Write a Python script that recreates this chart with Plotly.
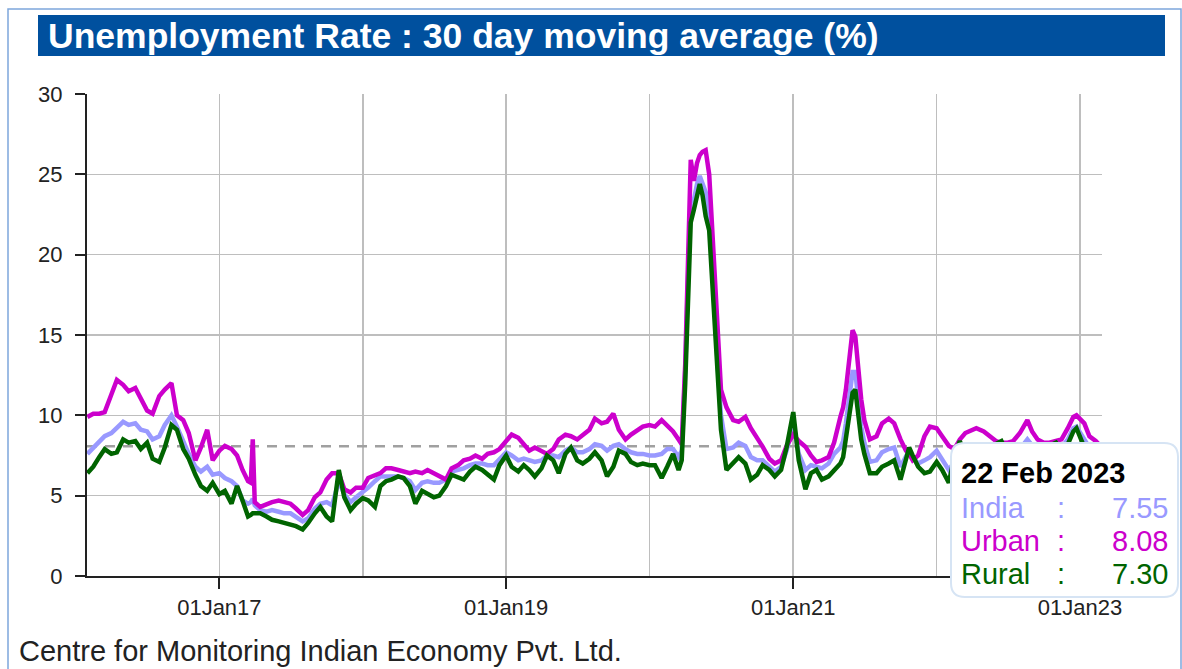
import plotly.graph_objects as go

# ---------------- data ----------------
dates = [
    # 2016
    "2016-01-31", "2016-02-15", "2016-03-01", "2016-03-15", "2016-04-01", "2016-04-15",
    "2016-05-01", "2016-05-15", "2016-06-01", "2016-06-15", "2016-07-01", "2016-07-15",
    "2016-08-01", "2016-08-15", "2016-09-01", "2016-09-15", "2016-10-01", "2016-10-15",
    "2016-11-01", "2016-11-15", "2016-12-01", "2016-12-15",
    # 2017
    "2017-01-01", "2017-01-15", "2017-02-01", "2017-02-15", "2017-03-01", "2017-03-15",
    "2017-03-22", "2017-03-27", "2017-04-01", "2017-04-15", "2017-05-01", "2017-05-15",
    "2017-06-01", "2017-06-15", "2017-07-01", "2017-07-15", "2017-08-01", "2017-08-15",
    "2017-09-01", "2017-09-15", "2017-10-01", "2017-10-15", "2017-11-01", "2017-11-15",
    "2017-12-01", "2017-12-15",
    # 2018
    "2018-01-01", "2018-01-15", "2018-02-01", "2018-02-15", "2018-03-01", "2018-03-15",
    "2018-04-01", "2018-04-15", "2018-05-01", "2018-05-15", "2018-06-01", "2018-06-15",
    "2018-07-01", "2018-07-15", "2018-08-01", "2018-08-15", "2018-09-01", "2018-09-15",
    "2018-10-01", "2018-10-15", "2018-11-01", "2018-11-15", "2018-12-01", "2018-12-15",
    # 2019
    "2019-01-01", "2019-01-15", "2019-02-01", "2019-02-15", "2019-03-01", "2019-03-15",
    "2019-04-01", "2019-04-15", "2019-05-01", "2019-05-15", "2019-06-01", "2019-06-15",
    "2019-07-01", "2019-07-15", "2019-08-01", "2019-08-15", "2019-09-01", "2019-09-15",
    "2019-10-01", "2019-10-15", "2019-11-01", "2019-11-15", "2019-12-01", "2019-12-15",
    # 2020
    "2020-01-01", "2020-01-15", "2020-02-01", "2020-02-15", "2020-03-01", "2020-03-15",
    "2020-03-23", "2020-04-01", "2020-04-08", "2020-04-15", "2020-04-23", "2020-05-01",
    "2020-05-08", "2020-05-15", "2020-05-23", "2020-06-01", "2020-06-08", "2020-06-15",
    "2020-06-23", "2020-07-01", "2020-07-15", "2020-08-01", "2020-08-15", "2020-09-01",
    "2020-09-15", "2020-10-01", "2020-10-15", "2020-11-01", "2020-11-15", "2020-12-01",
    "2020-12-15",
    # 2021
    "2021-01-01", "2021-01-15", "2021-02-01", "2021-02-15", "2021-03-01", "2021-03-15",
    "2021-04-01", "2021-04-15", "2021-05-01", "2021-05-08", "2021-05-15", "2021-05-23",
    "2021-06-01", "2021-06-08", "2021-06-15", "2021-06-23", "2021-07-01", "2021-07-15",
    "2021-08-01", "2021-08-15", "2021-09-01", "2021-09-15", "2021-10-01", "2021-10-15",
    "2021-10-23", "2021-11-01", "2021-11-15", "2021-12-01", "2021-12-15",
    # 2022
    "2022-01-01", "2022-01-15", "2022-02-01", "2022-02-15", "2022-03-01", "2022-03-15",
    "2022-04-01", "2022-04-12", "2022-05-01", "2022-05-15", "2022-06-01", "2022-06-15",
    "2022-07-01", "2022-07-15", "2022-08-01", "2022-08-20", "2022-09-01", "2022-09-15",
    "2022-10-01", "2022-10-15", "2022-11-01", "2022-11-15", "2022-12-01", "2022-12-15",
    "2022-12-23",
    # 2023
    "2023-01-01", "2023-01-12", "2023-01-25", "2023-02-10", "2023-02-22",
]

india = [
    7.6, 8.0, 8.4, 8.7, 8.9, 9.2, 9.6, 9.4, 9.5, 9.1, 9.0, 8.5,
    8.7, 9.4, 10.0, 9.3, 8.3, 7.6, 6.8, 6.5, 6.8, 6.3,
    6.4, 6.1, 5.9, 5.6, 4.7, 4.5, 4.6, 4.8, 4.4, 4.1, 4.0, 4.1,
    4.0, 3.9, 3.9, 3.7, 3.4, 3.6, 4.2, 4.5, 4.6, 4.4, 5.9, 5.1, 4.6, 4.9,
    5.2, 5.5, 5.9, 6.2, 6.2, 6.2, 6.2, 6.1, 5.9, 5.35, 5.8, 5.9,
    5.8, 5.8, 6.0, 6.5, 6.6, 6.7, 6.9, 7.0, 7.0, 6.9, 6.9, 7.3,
    7.7, 7.5, 7.2, 7.3, 7.2, 7.1, 7.2, 7.5, 7.5, 7.4, 7.8, 8.0,
    7.7, 7.7, 7.9, 8.2, 8.1, 7.8, 8.1, 8.2, 7.9, 7.7, 7.6, 7.6,
    7.5, 7.5, 7.6, 7.9, 7.9, 7.4, 7.8, 12.8, 18.5, 23.3, 23.4, 24.4,
    24.9, 24.5, 23.9, 22.6, 20.0, 16.5, 13.0, 10.0, 7.9, 8.0, 8.3, 8.1,
    7.4, 7.2, 7.2, 6.8, 6.5, 6.8, 7.8,
    9.5, 7.6, 6.6, 6.9, 6.8, 6.7, 7.0, 7.6, 8.0, 8.4, 9.5, 11.0,
    12.7, 12.7, 11.1, 9.3, 8.3, 7.1, 7.2, 7.7, 7.9, 8.0, 6.8, 7.5,
    7.8, 7.4, 7.0, 7.2, 7.4,
    7.8, 7.2, 6.6, 7.1, 8.1, 7.8, 7.7, 7.9, 8.0, 8.2, 8.2, 8.3,
    7.8, 7.6, 7.9, 8.5, 8.1, 7.7, 7.8, 8.2, 8.3, 8.0, 8.5, 9.2, 9.3,
    8.9, 8.5, 8.0, 7.7, 7.55,
]

urban = [
    9.9, 10.1, 10.1, 10.2, 11.3, 12.2, 11.9, 11.5, 11.7, 11.1, 10.3, 10.1,
    11.2, 11.6, 12.0, 10.0, 9.7, 8.9, 7.2, 8.0, 9.1, 7.2,
    7.8, 8.1, 7.9, 7.5, 6.6, 5.9, 5.8, 8.5, 4.6, 4.3, 4.5, 4.6,
    4.7, 4.6, 4.5, 4.2, 3.8, 4.1, 4.9, 5.2, 6.0, 6.4, 6.4, 5.4, 5.2, 5.5,
    5.5, 6.1, 6.3, 6.4, 6.7, 6.7, 6.6, 6.5, 6.4, 6.5, 6.4, 6.6,
    6.4, 6.2, 6.0, 6.7, 6.9, 7.2, 7.3, 7.5, 7.3, 7.6, 7.7, 7.9,
    8.4, 8.8, 8.6, 8.2, 7.8, 8.0, 7.8, 7.6, 7.9, 8.5, 8.8, 8.7,
    8.5, 8.8, 9.1, 9.8, 9.5, 9.6, 10.1, 9.1, 8.5, 8.8, 9.1, 9.3,
    9.4, 9.3, 9.7, 9.4, 9.0, 8.5, 8.2, 13.2, 19.5, 25.9, 24.6, 25.7,
    26.2, 26.4, 26.5, 25.0, 21.9, 18.4, 14.7, 11.6, 10.5, 9.7, 9.6, 9.9,
    9.2, 8.6, 8.05, 7.3, 7.0, 7.2, 8.1,
    8.8, 8.4, 8.05, 7.5, 7.1, 7.2, 7.4, 8.3, 9.9, 10.5, 11.6, 13.7,
    15.3, 14.9, 12.8, 11.0, 9.7, 8.5, 8.7, 9.5, 9.8, 9.5, 8.5, 7.8,
    7.6, 7.2, 7.5, 8.7, 9.3,
    9.2, 8.7, 8.1, 7.9, 8.5, 8.9, 9.1, 9.2, 9.0, 8.7, 8.4, 8.3,
    8.3, 8.4, 8.9, 9.7, 9.0, 8.5, 8.3, 8.3, 8.4, 8.5, 9.2, 9.9, 10.0,
    9.8, 9.5, 8.7, 8.4, 8.08,
]

rural = [
    6.4, 6.8, 7.4, 7.9, 7.6, 7.7, 8.5, 8.3, 8.4, 7.9, 8.3, 7.3,
    7.1, 8.0, 9.4, 9.1, 7.9, 7.3, 6.3, 5.6, 5.3, 5.8,
    5.1, 5.3, 4.5, 5.6, 4.7, 3.7, 3.8, 3.9, 3.9, 3.9, 3.7, 3.5,
    3.4, 3.3, 3.2, 3.1, 2.9, 3.3, 3.9, 4.3, 3.7, 3.4, 6.6, 4.9, 4.1, 4.5,
    4.85, 4.7, 4.3, 5.6, 5.9, 6.0, 6.2, 6.1, 5.6, 4.5, 5.3, 5.1,
    4.9, 5.0, 5.6, 6.3, 6.1, 6.0, 6.5, 6.8, 6.6, 6.3, 6.0, 6.9,
    7.5, 6.8, 6.5, 6.9, 6.6, 6.2, 6.7, 7.5, 7.2, 6.4, 7.6, 8.0,
    7.2, 7.0, 7.3, 7.7, 7.2, 6.2, 6.8, 7.8, 7.6, 7.1, 6.9, 7.0,
    6.9, 6.9, 6.1, 6.8, 7.6, 6.6, 7.2, 12.0, 18.0, 22.0, 22.8, 23.8,
    24.4, 23.7, 22.4, 21.5, 18.5, 15.0, 12.0, 9.1, 6.6, 7.0, 7.4, 7.0,
    6.0, 6.3, 6.9, 6.6, 6.2, 6.6, 8.0,
    10.2, 7.2, 5.4, 6.4, 6.6, 6.0, 6.2, 6.6, 7.0, 7.4, 8.5, 9.7,
    11.4, 11.6, 10.2, 8.5, 7.6, 6.4, 6.4, 6.8, 7.0, 7.2, 6.0, 7.3,
    8.0, 7.5, 6.8, 6.4, 6.5,
    7.1, 6.6, 5.8, 7.4, 8.4, 7.5, 7.0, 7.2, 7.6, 8.0, 8.2, 8.4,
    7.6, 7.2, 7.5, 7.9, 7.6, 7.3, 7.6, 8.1, 8.3, 7.8, 8.2, 9.0, 9.2,
    8.6, 8.0, 7.6, 7.5, 7.30,
]

series_names = ["India", "Urban", "Rural"]
series_colors = ["#9999ff", "#cc00cc", "#006400"]
reference_level = 8.08          # dashed reference line
hover_date = "22 Feb 2023"
hover_values = [7.55, 8.08, 7.30]

x_range = ["2016-01-30", "2023-02-26"]
y_ticks = [0, 5, 10, 15, 20, 25, 30]
x_tickvals = ["2017-01-01", "2019-01-01", "2021-01-01", "2023-01-01"]
x_ticktext = ["01Jan17", "01Jan19", "01Jan21", "01Jan23"]

title_text = "Unemployment Rate : 30 day moving average (%)"
source_text = "Centre for Monitoring Indian Economy Pvt. Ltd."

# ---------------- layout geometry ----------------
W, H = 1182, 669
L, R, T, B = 87, 80, 94, 93
PW, PH = W - L - R, H - T - B
FONT = "Liberation Sans, Arial, sans-serif"


def px2x(px):
    return (px - L) / PW


def py2y(py):
    return (H - B - py) / PH


fig = go.Figure()

# dashed reference line
fig.add_trace(go.Scatter(
    x=x_range, y=[reference_level, reference_level], mode="lines",
    line=dict(color="#a0a0a0", width=2.5, dash="10px,8px"),
    hoverinfo="skip", showlegend=False))

for name, vals, col in zip(series_names, [india, urban, rural], series_colors):
    fig.add_trace(go.Scatter(
        x=dates, y=vals, mode="lines", name=name,
        line=dict(color=col, width=4.5, shape="linear"),
        showlegend=False, hoverinfo="skip"))

grid_col = "#bebebe"
fig.update_layout(
    width=W, height=H,
    margin=dict(l=L, r=R, t=T, b=B, pad=0),
    paper_bgcolor="white", plot_bgcolor="white",
    font=dict(family=FONT, color="#222222"),
    showlegend=False,
    xaxis=dict(
        type="date", range=x_range,
        tickmode="array", tickvals=x_tickvals, ticktext=x_ticktext,
        ticks="outside", ticklen=11, tickwidth=2, tickcolor="#222222",
        showline=True, linecolor="#222222", linewidth=2,
        showgrid=True, gridcolor=grid_col, gridwidth=1.6,
        minor=dict(tickmode="linear", tick0="2016-01-01", dtick="M12",
                   showgrid=True, gridcolor=grid_col, gridwidth=1.6, ticks=""),
        tickfont=dict(size=22, color="#222222", family=FONT),
        zeroline=False, fixedrange=True,
    ),
    yaxis=dict(
        range=[0, 30], tickmode="array", tickvals=y_ticks,
        ticks="outside", ticklen=10, tickwidth=2, tickcolor="#222222",
        showline=True, linecolor="#222222", linewidth=2,
        showgrid=True, gridcolor=grid_col, gridwidth=1.6,
        tickfont=dict(size=22, color="#222222", family=FONT),
        ticklabelstandoff=8,
        zeroline=False, fixedrange=True,
    ),
)

shapes = []
# outer light-blue frame
shapes.append(dict(type="rect", xref="paper", yref="paper",
                   x0=px2x(8), x1=px2x(1181), y0=py2y(672), y1=py2y(9),
                   line=dict(color="#7ea6dc", width=1.5), fillcolor="rgba(0,0,0,0)",
                   layer="below"))
# title bar
shapes.append(dict(type="rect", xref="paper", yref="paper",
                   x0=px2x(38), x1=px2x(1165), y0=py2y(56), y1=py2y(15),
                   line=dict(width=0), fillcolor="#00509e", layer="above"))


# tooltip box with rounded corners
def rounded_path(x0, y0, x1, y1, r):
    pts = [
        f"M {px2x(x0 + r)} {py2y(y0)}",
        f"L {px2x(x1 - r)} {py2y(y0)}",
        f"Q {px2x(x1)} {py2y(y0)} {px2x(x1)} {py2y(y0 + r)}",
        f"L {px2x(x1)} {py2y(y1 - r)}",
        f"Q {px2x(x1)} {py2y(y1)} {px2x(x1 - r)} {py2y(y1)}",
        f"L {px2x(x0 + r)} {py2y(y1)}",
        f"Q {px2x(x0)} {py2y(y1)} {px2x(x0)} {py2y(y1 - r)}",
        f"L {px2x(x0)} {py2y(y0 + r)}",
        f"Q {px2x(x0)} {py2y(y0)} {px2x(x0 + r)} {py2y(y0)}",
        "Z",
    ]
    return " ".join(pts)


shapes.append(dict(type="path", xref="paper", yref="paper",
                   path=rounded_path(951, 443, 1178, 597, 14),
                   line=dict(color="#d6e4f4", width=2), fillcolor="white",
                   layer="above"))
fig.update_layout(shapes=shapes)

ann = []
ann.append(dict(xref="paper", yref="paper", x=px2x(46), y=py2y(36),
                xanchor="left", yanchor="middle", showarrow=False,
                text=f"<b>{title_text}</b>",
                font=dict(family=FONT, size=35.5, color="white")))
ann.append(dict(xref="paper", yref="paper", x=px2x(17), y=py2y(651),
                xanchor="left", yanchor="middle", showarrow=False,
                text=source_text,
                font=dict(family=FONT, size=29, color="#222222")))
# tooltip content
ann.append(dict(xref="paper", yref="paper", x=px2x(959), y=py2y(473),
                xanchor="left", yanchor="middle", showarrow=False,
                text=f"<b>{hover_date}</b>",
                font=dict(family=FONT, size=29, color="black")))
row_y = [508, 541, 574]
for name, val, col, ry in zip(series_names, hover_values, series_colors, row_y):
    ann.append(dict(xref="paper", yref="paper", x=px2x(959), y=py2y(ry),
                    xanchor="left", yanchor="middle", showarrow=False,
                    text=name, font=dict(family=FONT, size=29, color=col)))
    ann.append(dict(xref="paper", yref="paper", x=px2x(1061), y=py2y(ry),
                    xanchor="center", yanchor="middle", showarrow=False,
                    text=":", font=dict(family=FONT, size=29, color=col)))
    ann.append(dict(xref="paper", yref="paper", x=px2x(1170), y=py2y(ry),
                    xanchor="right", yanchor="middle", showarrow=False,
                    text=f"{val:.2f}", font=dict(family=FONT, size=29, color=col)))
fig.update_layout(annotations=ann)

fig.write_html(
    "out.html", include_plotlyjs=True,
    config={"displayModeBar": False, "staticPlot": True},
    post_script="document.body.style.margin='0';document.body.style.overflow='hidden';",
)
